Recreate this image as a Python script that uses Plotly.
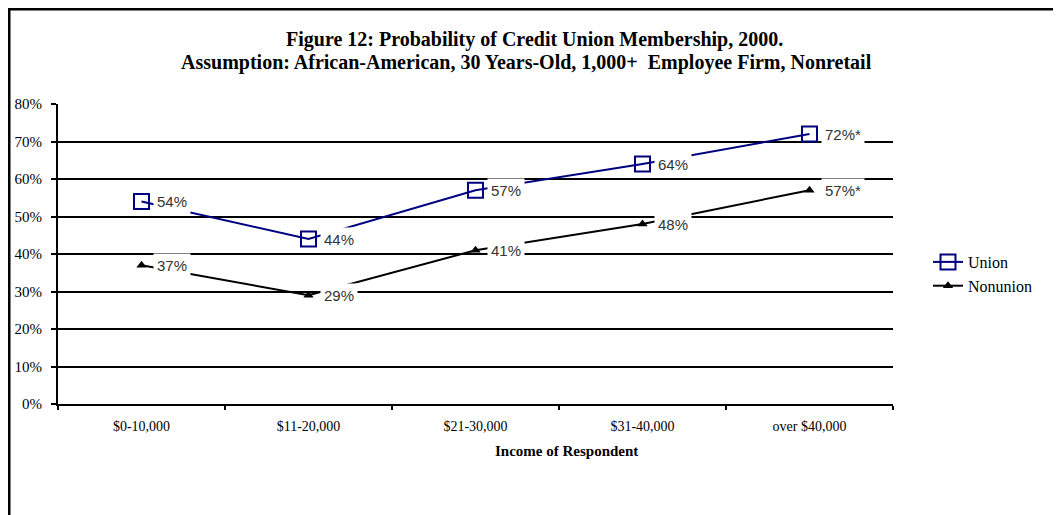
import plotly.graph_objects as go

# values
income_groups = ["$0-10,000", "$11-20,000", "$21-30,000", "$31-40,000", "over $40,000"]
union_prob = [0.54, 0.44, 0.57, 0.64, 0.72]
nonunion_prob = [0.37, 0.29, 0.41, 0.48, 0.57]
union_labels = ["54%", "44%", "57%", "64%", "72%*"]
nonunion_labels = ["37%", "29%", "41%", "48%", "57%*"]
title_lines = [
    "Figure 12: Probability of Credit Union Membership, 2000.",
    "Assumption: African-American, 30 Years-Old, 1,000+  Employee Firm, Nonretail",
]

SERIF = "Liberation Serif, Times New Roman, serif"
SANS = "Liberation Sans, Arial, sans-serif"

W, H = 1061, 515
PLOT_L, PLOT_R, PLOT_T, PLOT_B = 50, 885, 96, 396


def px_x(x):
    return (x - PLOT_L) / (PLOT_R - PLOT_L)


def px_y(y):
    return (PLOT_B - y) / (PLOT_B - PLOT_T)


fig = go.Figure()

fig.add_trace(
    go.Scatter(
        x=income_groups,
        y=union_prob,
        mode="lines+markers",
        name="Union",
        line=dict(color="#000080", width=2),
        marker=dict(symbol="square-open", size=15, color="#000080", line=dict(width=2, color="#000080")),
    )
)

fig.add_trace(
    go.Scatter(
        x=income_groups,
        y=nonunion_prob,
        mode="lines+markers",
        name="Nonunion",
        line=dict(color="black", width=2),
        marker=dict(symbol="triangle-up", size=9, color="black"),
    )
)

# data labels with white boxes that hide the lines behind them
annotations = []
for ys, labels in ((union_prob, union_labels), (nonunion_prob, nonunion_labels)):
    for x, y, txt in zip(income_groups, ys, labels):
        annotations.append(
            dict(
                x=x,
                y=y,
                text=txt,
                showarrow=False,
                xanchor="left",
                xshift=11,
                bgcolor="white",
                borderpad=3,
                font=dict(family=SANS, size=15, color="#333333"),
            )
        )

# two-line title, placed line by line for tighter spacing
for txt, cx, cy in zip(title_lines, (526, 518), (32, 55)):
    annotations.append(
        dict(
            x=px_x(cx),
            y=px_y(cy),
            xref="paper",
            yref="paper",
            xanchor="center",
            yanchor="middle",
            text=f"<b>{txt}</b>",
            showarrow=False,
            font=dict(family=SERIF, size=20, color="black"),
        )
    )

annotations.append(
    dict(
        x=px_x(558),
        y=px_y(443),
        xref="paper",
        yref="paper",
        xanchor="center",
        yanchor="middle",
        text="<b>Income of Respondent</b>",
        showarrow=False,
        font=dict(family=SERIF, size=15, color="black"),
    )
)

fig.update_layout(
    width=W,
    height=H,
    margin=dict(l=PLOT_L, r=W - PLOT_R, t=PLOT_T, b=H - PLOT_B),
    paper_bgcolor="white",
    plot_bgcolor="white",
    showlegend=True,
    legend=dict(
        x=px_x(920),
        y=0.53,
        xanchor="left",
        yanchor="top",
        font=dict(family=SERIF, size=16, color="black"),
        bgcolor="rgba(0,0,0,0)",
    ),
    annotations=annotations,
    shapes=[
        dict(
            type="rect",
            xref="paper",
            yref="paper",
            x0=px_x(1),
            x1=1.5,
            y0=-0.6,
            y1=px_y(1),
            line=dict(color="black", width=3),
            layer="below",
        )
    ],
)

fig.update_xaxes(
    type="category",
    range=[-0.5, 4.5],
    automargin=False,
    showline=True,
    linecolor="black",
    linewidth=2,
    ticks="outside",
    tickson="boundaries",
    ticklen=4,
    tickwidth=2,
    tickcolor="black",
    ticklabelstandoff=8,
    showgrid=False,
    tickfont=dict(family=SERIF, size=14, color="black"),
)

fig.update_yaxes(
    range=[0, 0.8],
    dtick=0.1,
    tickformat=".0%",
    automargin=False,
    showline=True,
    linecolor="black",
    linewidth=2,
    ticks="outside",
    ticklen=5,
    tickwidth=2,
    tickcolor="black",
    ticklabelstandoff=6,
    showgrid=True,
    gridcolor="black",
    gridwidth=2,
    zeroline=False,
    tickfont=dict(family=SERIF, size=15, color="black"),
)

fig.write_html("out.html")
